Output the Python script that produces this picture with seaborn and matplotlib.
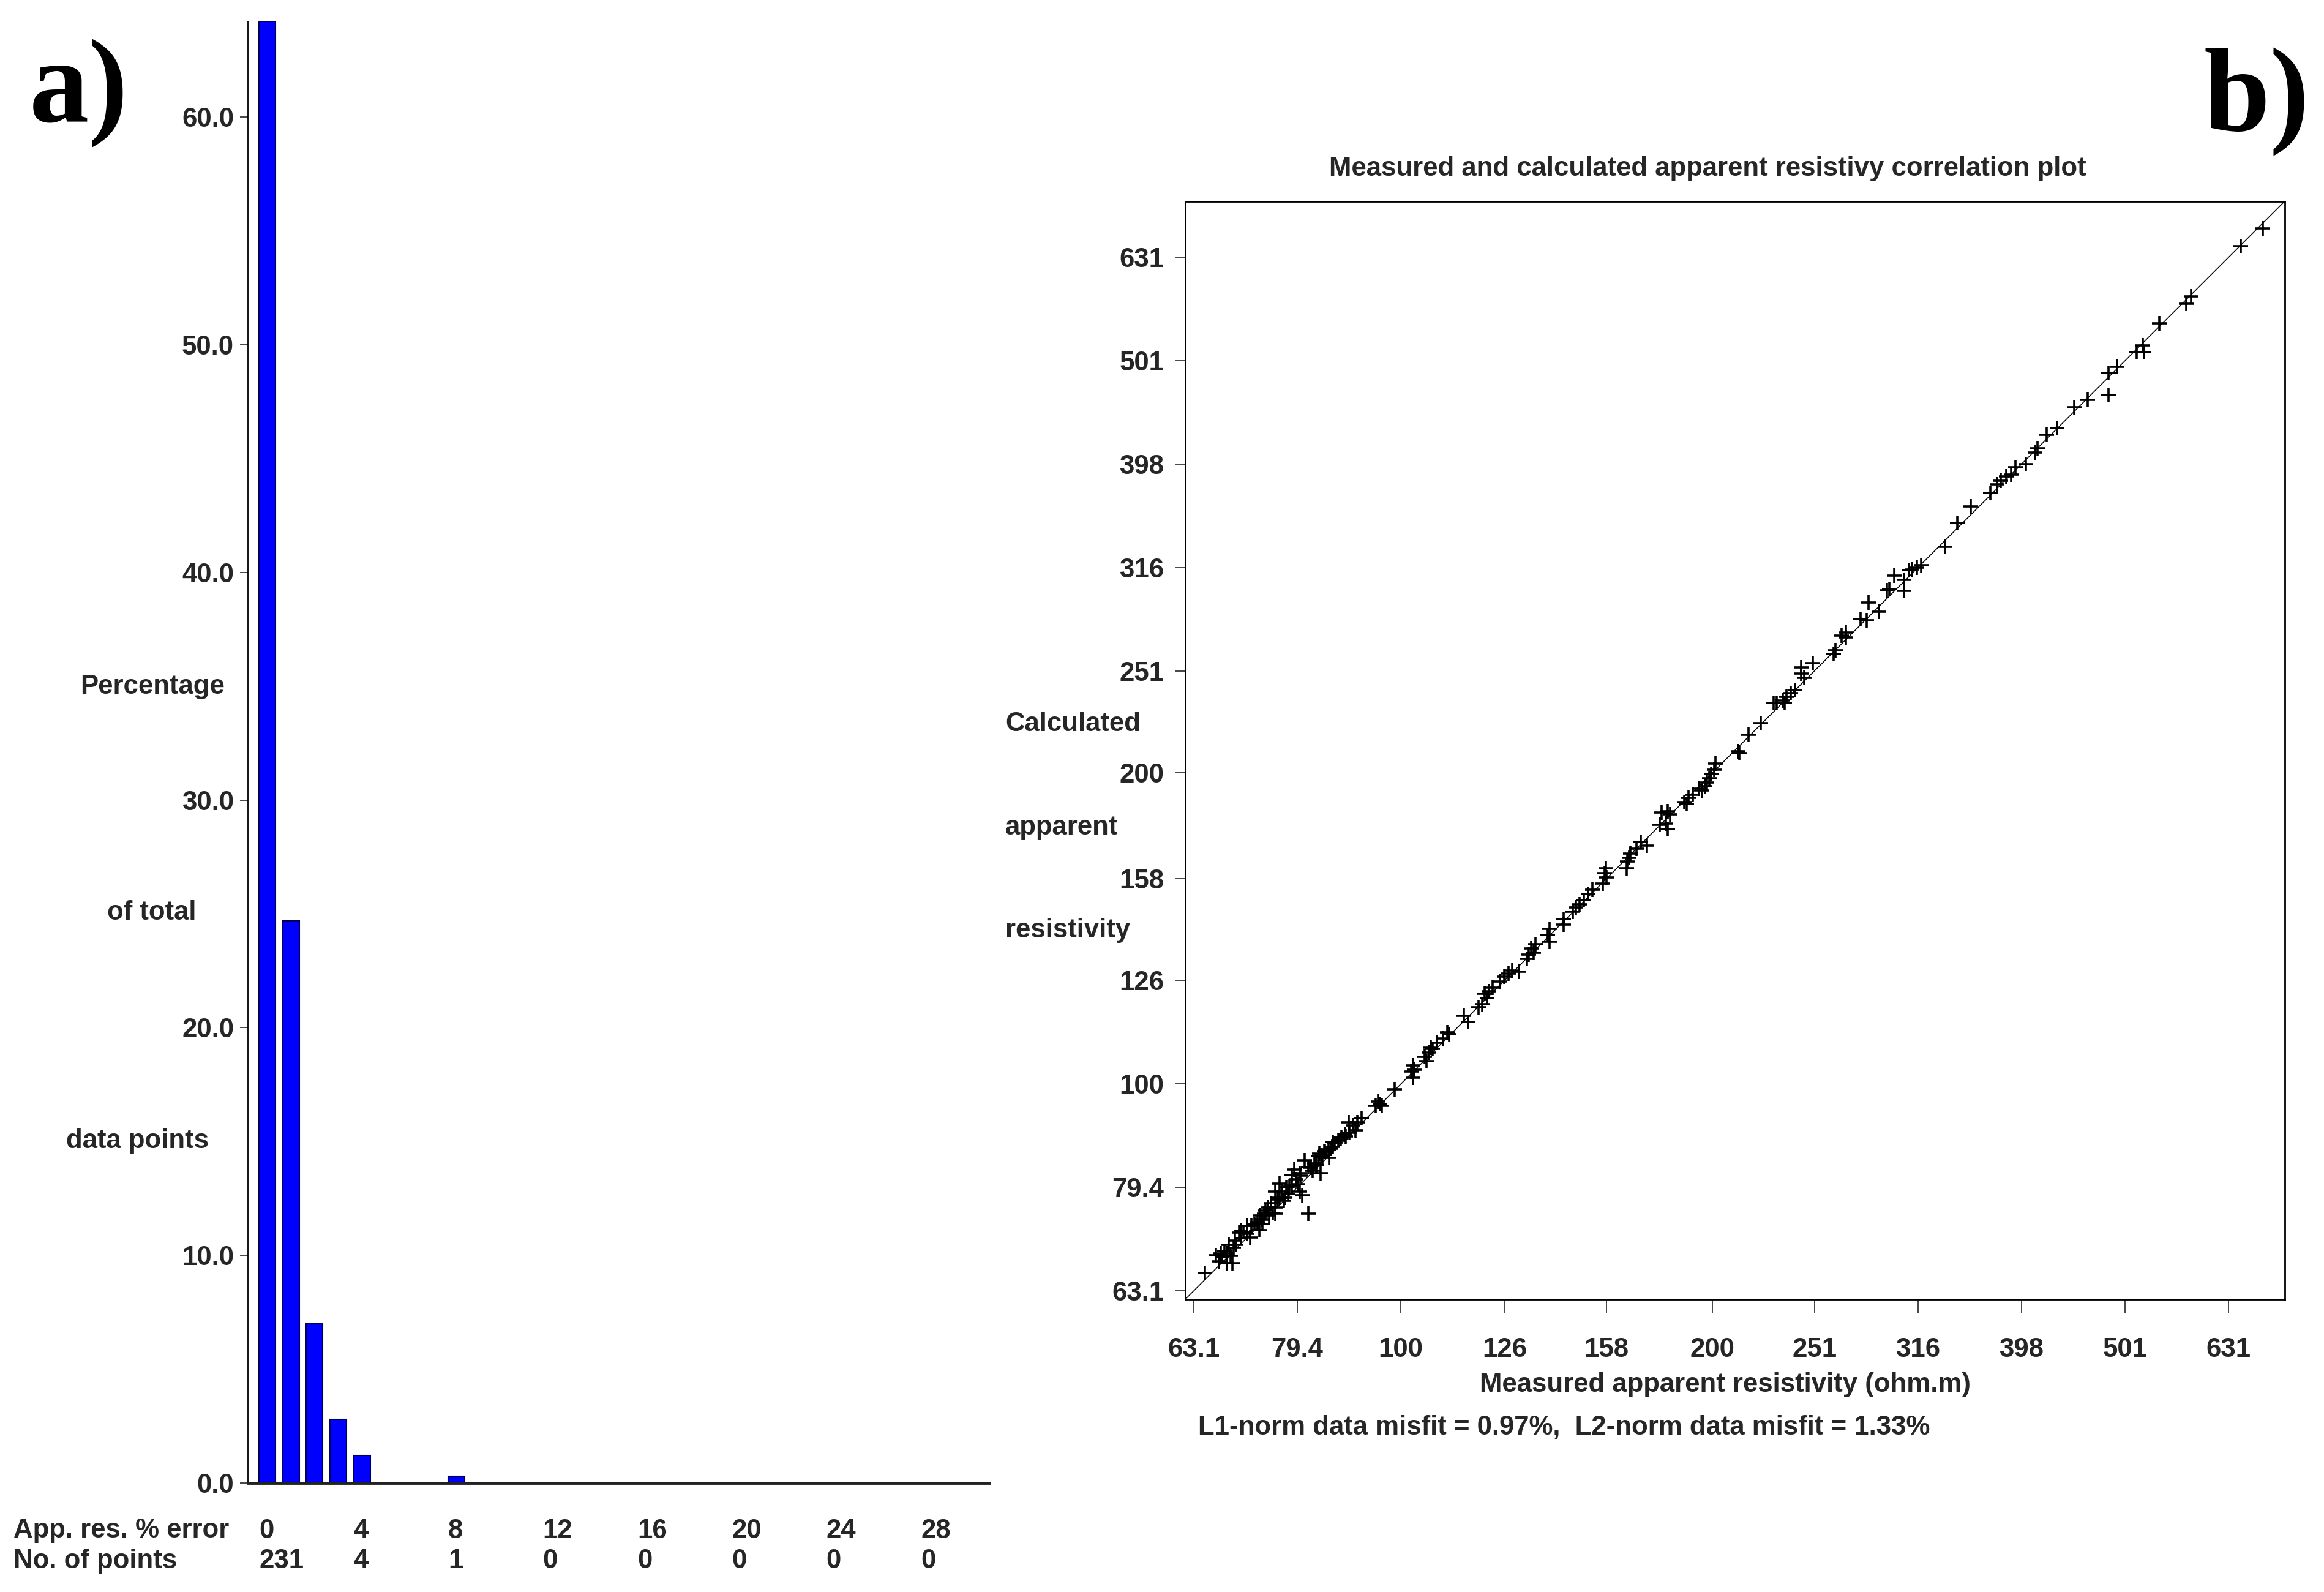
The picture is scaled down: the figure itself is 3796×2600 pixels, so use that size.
import numpy as np
import matplotlib
matplotlib.use('Agg')
import matplotlib.pyplot as plt
import seaborn as sns

# Panel a: distribution of the apparent resistivity misfit
err_bins = [0, 1, 2, 3, 4, 8]
err_pct = [64.2, 24.7, 7.0, 2.8, 1.2, 0.3]
err_ticks = [0, 4, 8, 12, 16, 20, 24, 28]
err_counts = [231, 4, 1, 0, 0, 0, 0, 0]
pct_ticks = [0, 10, 20, 30, 40, 50, 60]

# Panel b: measured vs calculated apparent resistivity (ohm.m)
res_ticks = [63.1, 79.4, 100, 126, 158, 200, 251, 316, 398, 501, 631]
measured = [
    64.7, 81.4, 80.3, 67.0, 68.7, 66.7, 67.9, 68.2, 69.1, 69.8, 70.1, 71.0, 71.7, 73.1,
    72.7, 73.8, 73.4, 74.4, 74.9, 75.6, 74.6, 76.4, 76.8, 77.5, 76.4, 78.5, 77.8, 79.2,
    79.9, 78.9, 81.4, 82.2, 82.9, 83.6, 80.7, 83.3, 84.5, 86.0, 85.2, 87.6, 89.2, 78.5,
    75.6, 71.0, 68.9, 67.2, 66.3, 79.9, 77.1, 75.6, 73.0, 70.1, 69.3, 67.9,
    67.5, 70.5, 72.2, 74.0, 76.0, 78.0, 80.0, 81.8, 68.5, 71.5, 73.5, 75.2, 77.3, 79.5,
    82.5, 84.0, 85.6, 87.0, 88.5,
    107.4, 106.4, 105.4, 105.9, 102.8, 102.3, 102.8, 103.0, 98.6, 95.5, 95.1, 95.9, 94.6,
    91.6, 90.8, 89.9, 89.1, 90.4, 88.3, 87.5, 86.3, 85.9, 85.1, 84.3, 83.8, 83.4, 110.9,
    173.0, 170.6, 169.0, 166.7, 166.3, 165.6, 165.2, 157.8, 157.4, 158.1, 156.7, 153.1,
    151.7, 150.3, 148.9, 147.6, 146.6, 143.6, 143.6, 139.3, 138.7, 139.3, 134.9, 133.7,
    133.0, 132.4, 134.3, 130.0, 128.2, 127.1, 125.9, 124.7, 122.7, 121.6, 120.5, 121.1,
    119.9, 118.9, 115.1, 116.1, 111.4, 109.9, 108.4, 106.9,
    269.2, 266.7, 269.2, 263.0, 261.8, 250.0, 243.8, 243.8, 245.5, 240.4, 238.2, 236.0,
    233.9, 230.7, 229.1, 235.0, 222.8, 216.8, 211.8, 212.3, 201.4, 200.9, 199.5, 198.6,
    197.7, 196.8, 195.4, 194.1, 191.4, 189.7, 187.9, 188.8, 181.1, 182.0, 180.3, 181.1,
    178.6, 177.8,
    412.1, 410.2, 401.8, 392.6, 389.0, 384.6, 380.2, 376.7, 371.5, 355.6, 345.1, 335.7,
    318.4, 315.5, 311.9, 309.7, 299.9, 306.2, 306.2, 295.1, 296.5, 283.1, 289.7, 278.0,
    281.8,
    680.8, 648.6, 580.8, 574.1, 540.8, 521.2, 514.0, 522.4, 492.0, 483.1, 483.1, 461.3,
    447.7, 430.5, 420.7,
]
calculated = [
    65.6, 74.9, 78.1, 68.6, 67.1, 67.4, 68.6, 69.9, 70.6, 71.8, 70.9, 71.6, 72.9, 74.6,
    73.5, 74.9, 73.9, 76.0, 76.7, 76.0, 74.6, 77.6, 78.7, 79.4, 80.1, 79.8, 78.3, 80.9,
    82.0, 82.7, 83.1, 82.4, 83.5, 82.0, 84.4, 85.2, 86.0, 87.9, 84.8, 88.9, 89.7, 81.6,
    78.7, 72.9, 69.4, 68.0, 68.3, 78.7, 77.1, 74.9, 72.2, 72.1, 69.9, 67.1,
    68.9, 71.9, 73.2, 75.4, 77.3, 79.6, 81.5, 83.0, 68.2, 71.0, 73.2, 75.0, 77.6, 80.0,
    83.8, 85.0, 86.6, 88.2, 89.0,
    108.1, 107.2, 106.2, 105.2, 104.2, 102.8, 101.4, 103.3, 98.9, 95.7, 96.2, 95.3, 95.3,
    92.7, 91.8, 91.2, 91.8, 90.2, 89.3, 88.5, 87.7, 86.9, 86.5, 86.1, 85.3, 85.7, 112.2,
    170.2, 171.4, 169.0, 167.1, 165.6, 164.1, 161.8, 161.8, 159.9, 158.5, 156.3, 154.2,
    152.8, 150.7, 149.3, 148.3, 146.9, 144.5, 142.6, 141.3, 139.3, 137.4, 136.5, 135.2,
    133.4, 132.1, 134.0, 128.5, 128.8, 127.9, 127.1, 125.6, 123.9, 123.0, 122.2, 121.1,
    119.4, 118.6, 116.4, 114.8, 111.7, 110.7, 109.6, 108.4,
    273.5, 271.6, 270.4, 263.0, 260.6, 255.3, 252.9, 249.5, 247.2, 240.4, 238.8, 237.1,
    235.0, 233.9, 233.9, 233.9, 223.4, 217.8, 209.9, 208.9, 204.2, 201.4, 199.5, 197.7,
    195.9, 194.1, 192.3, 193.2, 190.5, 189.2, 187.5, 186.6, 183.7, 182.4, 178.6, 176.6,
    183.2, 178.2,
    412.1, 408.3, 398.1, 395.4, 389.0, 387.2, 383.7, 380.2, 373.3, 362.2, 349.1, 331.1,
    317.7, 316.2, 314.8, 314.1, 310.5, 307.6, 299.9, 300.6, 301.3, 292.4, 286.4, 281.8,
    281.2,
    673.0, 647.1, 578.1, 568.9, 544.5, 518.8, 510.5, 510.5, 494.3, 487.5, 464.5, 459.2,
    451.9, 431.5, 424.6,
]

sns.set_style('white')
plt.rcParams['font.family'] = ['Liberation Sans Narrow', 'Liberation Sans', 'DejaVu Sans']
plt.rcParams['font.weight'] = 'bold'
plt.rcParams['font.size'] = 31.5

W, H = 3796, 2600
fig = plt.figure(figsize=(W / 100, H / 100), dpi=100)


def fx(px):
    return px / W


def fy(py):
    return 1 - py / H


# ---- panel a ----
ax1 = fig.add_axes([fx(405), fy(2422), fx(1616) - fx(405), fy(35) - fy(2422)])
sns.barplot(x=np.array(err_bins) + 0.35, y=err_pct, native_scale=True, width=0.7,
            color='#0000ff', saturation=1, edgecolor='#00005a', linewidth=1.5,
            errorbar=None, ax=ax1)
ax1.set_xlim(-0.47, 30.9)
ax1.set_ylim(0, 64.2)
ax1.set_xticks([])
ax1.set_yticks(pct_ticks, labels=[f'{v:.1f}' for v in pct_ticks])
ax1.tick_params(axis='y', direction='out', length=9.5, width=1.2, pad=7, left=True)
ax1.set_xlabel('')
ax1.set_ylabel('')
for side in ['top', 'right']:
    ax1.spines[side].set_visible(False)
ax1.spines['left'].set_linewidth(1.3)
ax1.spines['bottom'].set_linewidth(3.5)
ax1.spines['left'].set_color('black')
ax1.spines['bottom'].set_color('#222222')

xt = ax1.get_xaxis_transform()
for v, c in zip(err_ticks, err_counts):
    ax1.text(v, -0.0327, str(v), transform=xt, ha='left', va='center')
    ax1.text(v, -0.0536, str(c), transform=xt, ha='left', va='center')
fig.text(fx(22), fy(2500), 'App. res. % error', ha='left', va='center')
fig.text(fx(22), fy(2550), 'No. of points', ha='left', va='center')

fig.text(fx(249), fy(1121), 'Percentage', ha='center', va='center')
fig.text(fx(248), fy(1491), 'of total', ha='center', va='center')
fig.text(fx(225), fy(1864), 'data points', ha='center', va='center')

fig.text(fx(48), fy(199), 'a)', family=['Liberation Serif', 'DejaVu Serif'],
         weight='bold', size=140, color='black', ha='left', va='baseline')
fig.text(fx(3600), fy(213), 'b)', family=['Liberation Serif', 'DejaVu Serif'],
         weight='bold', size=140, color='black', ha='left', va='baseline')

# ---- panel b ----
ax2 = fig.add_axes([fx(1936), fy(2122), fx(3732) - fx(1936), fy(328.5) - fy(2122)])
lims = [61.9, 715.0]
ax2.plot(lims, lims, color='black', lw=1.1)
sns.scatterplot(x=measured, y=calculated, marker='+', s=320, color='black',
                linewidth=2.6, ax=ax2)
ax2.set_xscale('log')
ax2.set_yscale('log')
ax2.set_xlim(lims)
ax2.set_ylim(lims)
ax2.minorticks_off()
tick_labels = [f'{v:g}' for v in res_ticks]
ax2.set_xticks(res_ticks, labels=tick_labels)
ax2.set_yticks(res_ticks, labels=tick_labels)
ax2.tick_params(axis='y', direction='out', length=12, width=1.2, pad=13, left=True)
ax2.tick_params(axis='x', direction='out', length=16.5, width=1.2, pad=28, bottom=True)
for side in ax2.spines.values():
    side.set_linewidth(2)
    side.set_color('black')

fig.text(fx(2789), fy(276), 'Measured and calculated apparent resistivy correlation plot',
         ha='center', va='center')
fig.text(fx(2818), fy(2262), 'Measured apparent resistivity (ohm.m)',
         ha='center', va='center')
fig.text(fx(1957), fy(2331), 'L1-norm data misfit = 0.97%,  L2-norm data misfit = 1.33%',
         ha='left', va='center')
fig.text(fx(1642), fy(1182), 'Calculated', ha='left', va='center')
fig.text(fx(1642), fy(1351), 'apparent', ha='left', va='center')
fig.text(fx(1642), fy(1519), 'resistivity', ha='left', va='center')

fig.savefig('out.png', dpi=100, facecolor='white')
